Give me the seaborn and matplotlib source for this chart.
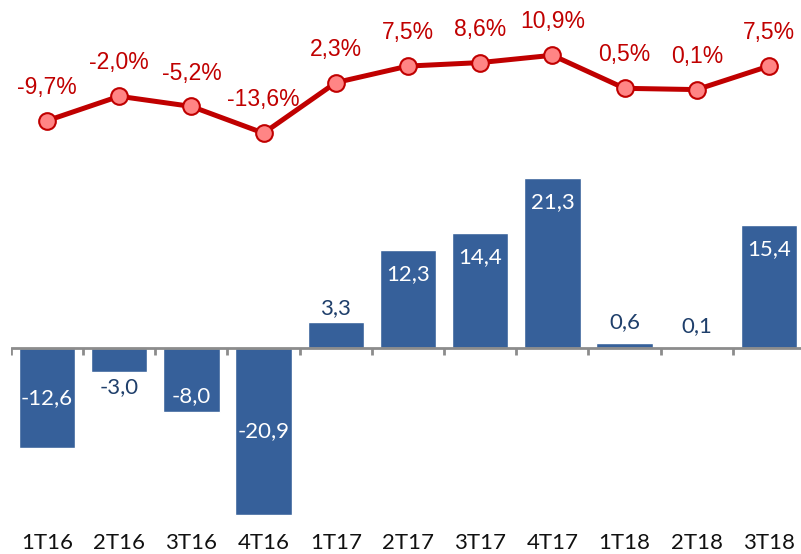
import numpy as np
import pandas as pd
import matplotlib
matplotlib.use('Agg')
import matplotlib.pyplot as plt
import seaborn as sns

# data
quarters = ['1T16', '2T16', '3T16', '4T16', '1T17', '2T17', '3T17', '4T17', '1T18', '2T18', '3T18']
bar_values = [-12.6, -3.0, -8.0, -20.9, 3.3, 12.3, 14.4, 21.3, 0.6, 0.1, 15.4]
pct_values = [-9.7, -2.0, -5.2, -13.6, 2.3, 7.5, 8.6, 10.9, 0.5, 0.1, 7.5]

BAR_COLOR = '#36609A'
LINE_COLOR = '#C00000'
MARKER_FILL = '#FF8585'
AXIS_GREY = '#8C8C8C'


def fmt(v, pct=False):
    s = f'{v:.1f}'.replace('.', ',')
    return s + '%' if pct else s


sns.set_theme(style='white')
plt.rcParams['font.family'] = ['Lato', 'DejaVu Sans']

df = pd.DataFrame({'quarter': quarters, 'value': bar_values, 'pct': pct_values})
df['x'] = np.arange(len(df))

fig = plt.figure(figsize=(8.01, 5.54), dpi=100)

# bars (bottom)
ax = fig.add_axes([0.0136, 0.058, 0.9915, 0.645])
sns.barplot(data=df, x='quarter', y='value', color=BAR_COLOR, saturation=1,
            width=0.78, ax=ax)
ax.set_xlim(-0.5, len(df) - 0.5)
ax.set_ylim(-21.8, 23)
for s in ax.spines.values():
    s.set_visible(False)
ax.set_yticks([])
ax.set_xlabel('')
ax.set_ylabel('')
ax.tick_params(axis='x', length=0, pad=8, labelsize=16, labelcolor='#111111')

# zero line with ticks at category boundaries
ax.axhline(0, color=AXIS_GREY, lw=2, zorder=3)
bounds = np.arange(-0.5, len(df), 1.0)
ax.vlines(bounds, -0.9, 0, color=AXIS_GREY, lw=2, zorder=3)

for x, v in zip(df['x'], df['value']):
    if abs(v) < 5:
        # small bars: dark label outside the bar
        off = 14 if v >= 0 else -15
        if abs(v) < 1:
            off = 21
        ax.annotate(fmt(v), (x, v), xytext=(0, off * 0.72), textcoords='offset points',
                    ha='center', va='center', color='#1F3F6B', fontsize=16)
    elif v > 0:
        ax.annotate(fmt(v), (x, v), xytext=(0, -24 * 0.72), textcoords='offset points',
                    ha='center', va='center', color='white', fontsize=16)
    elif v > -10:
        ax.annotate(fmt(v), (x, v), xytext=(0, 16 * 0.72), textcoords='offset points',
                    ha='center', va='center', color='white', fontsize=16)
    else:
        ax.text(x, v / 2, fmt(v), ha='center', va='center', color='white', fontsize=16)

# growth line (top)
ax2 = fig.add_axes([0.0136, 0.723, 0.9915, 0.195])
sns.lineplot(data=df, x='x', y='pct', color=LINE_COLOR, lw=3.6, marker='o',
             markersize=12, markerfacecolor=MARKER_FILL, markeredgecolor=LINE_COLOR,
             markeredgewidth=1.5, ax=ax2)
ax2.set_xlim(-0.5, len(df) - 0.5)
ax2.set_ylim(-20, 14)
ax2.axis('off')
for x, v in zip(df['x'], df['pct']):
    ax2.annotate(fmt(v, pct=True), (x, v), xytext=(0, 24), textcoords='offset points',
                 ha='center', va='center', color=LINE_COLOR, fontsize=16.5,
                 family='Liberation Sans', annotation_clip=False)

fig.savefig('out.png', dpi=100)
